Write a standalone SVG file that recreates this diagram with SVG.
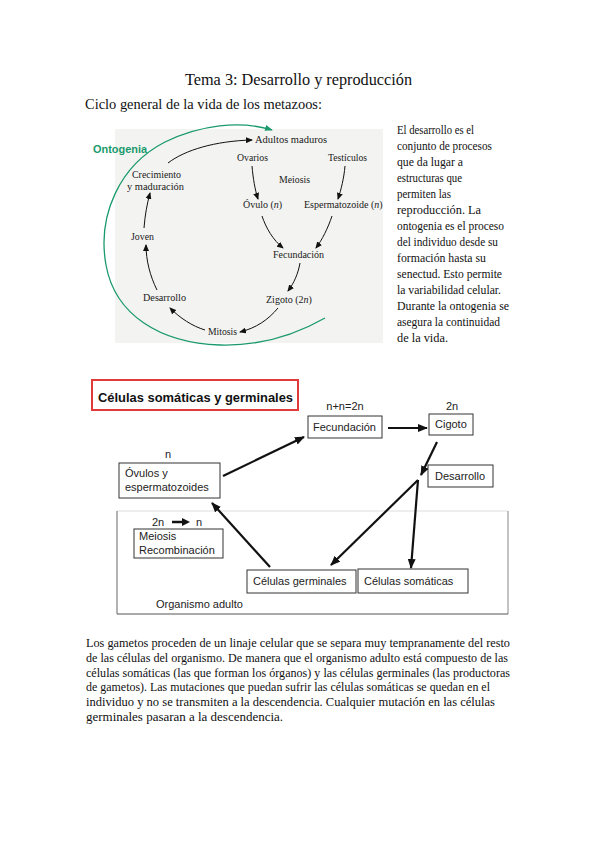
<svg xmlns="http://www.w3.org/2000/svg" width="599" height="848" viewBox="0 0 599 848">
<style>
.ser{font-family:"Liberation Serif","Times New Roman",serif;fill:#111}
.fig{font-family:"Liberation Serif","Times New Roman",serif;font-size:10px;fill:#1a1a1a}
.sans{font-family:"Liberation Sans",Arial,sans-serif;font-size:11px;fill:#222}
.box{fill:#fff;stroke:#333;stroke-width:1}
.thin{fill:none;stroke:#111;stroke-width:1}
.thick{fill:none;stroke:#111;stroke-width:2.2}
</style>
<defs>
<marker id="ah" markerUnits="userSpaceOnUse" markerWidth="7" markerHeight="6" refX="6" refY="3" orient="auto"><path d="M0,0 L7,3 L0,6 Z" fill="#111"/></marker>
<marker id="ahb" markerUnits="userSpaceOnUse" markerWidth="10" markerHeight="8" refX="9" refY="4" orient="auto"><path d="M0,0 L10,4 L0,8 Z" fill="#111"/></marker>
<marker id="ahg" markerUnits="userSpaceOnUse" markerWidth="8" markerHeight="6" refX="7" refY="3" orient="auto"><path d="M0,0 L8,3 L0,6 Z" fill="#1a9a6c"/></marker>
</defs>
<rect width="599" height="848" fill="#fff"/>

<text class="ser" x="298.5" y="85" font-size="16" text-anchor="middle" textLength="227" lengthAdjust="spacingAndGlyphs">Tema 3: Desarrollo y reproducción</text>
<text class="ser" x="85" y="109" font-size="14" textLength="237" lengthAdjust="spacingAndGlyphs">Ciclo general de la vida de los metazoos:</text>

<!-- upper figure -->
<g id="ciclo">
<rect x="115" y="129" width="268" height="214" fill="#f3f3f1"/>
<g id="ontogenia">
<path d="M325,318 C290,338 255,346 220,345 C160,343 115,315 106,265 C97,215 120,165 165,142 C200,125 240,120 272,130" fill="none" stroke="#1a9a6c" stroke-width="1.3" marker-end="url(#ahg)"/>
<text x="93" y="153" font-family="Liberation Sans,Arial,sans-serif" font-size="11.5" font-weight="bold" fill="#1a9a6c" textLength="54" lengthAdjust="spacingAndGlyphs">Ontogenia</text>
</g>
<g id="n-adultos"><text class="fig" x="255" y="143" textLength="72" lengthAdjust="spacingAndGlyphs">Adultos maduros</text></g>
<g id="n-ovarios"><text class="fig" x="237" y="161" textLength="31" lengthAdjust="spacingAndGlyphs">Ovarios</text></g>
<g id="n-testiculos"><text class="fig" x="328" y="161" textLength="39" lengthAdjust="spacingAndGlyphs">Testículos</text></g>
<g id="n-meiosis"><text class="fig" x="279" y="183" textLength="31" lengthAdjust="spacingAndGlyphs">Meiosis</text></g>
<g id="n-ovulo"><text class="fig" x="243" y="208">Óvulo (<tspan font-style="italic">n</tspan>)</text></g>
<g id="n-esperm"><text class="fig" x="304" y="208">Espermatozoide (<tspan font-style="italic">n</tspan>)</text></g>
<g id="n-fecund"><text class="fig" x="273" y="258" textLength="51" lengthAdjust="spacingAndGlyphs">Fecundación</text></g>
<g id="n-zigoto"><text class="fig" x="266" y="303">Zigoto (2<tspan font-style="italic">n</tspan>)</text></g>
<g id="n-mitosis"><text class="fig" x="208" y="335" textLength="29" lengthAdjust="spacingAndGlyphs">Mitosis</text></g>
<g id="n-desarrollo"><text class="fig" x="143" y="301" textLength="43" lengthAdjust="spacingAndGlyphs">Desarrollo</text></g>
<g id="n-joven"><text class="fig" x="131" y="240" textLength="23" lengthAdjust="spacingAndGlyphs">Joven</text></g>
<g id="n-crec"><text class="fig" x="132" y="178" textLength="49" lengthAdjust="spacingAndGlyphs">Crecimiento</text><text class="fig" x="127" y="190" textLength="57" lengthAdjust="spacingAndGlyphs">y maduración</text></g>
<g id="ciclo-conectores">
<path class="thin" d="M168,163 C185,150 215,141 252,140" marker-end="url(#ah)"/>
<path class="thin" d="M252,166 C253,178 255,190 258,199" marker-end="url(#ah)"/>
<path class="thin" d="M345,166 C344,178 341,190 338,199" marker-end="url(#ah)"/>
<path class="thin" d="M262,216 C266,228 273,240 283,248" marker-end="url(#ah)"/>
<path class="thin" d="M332,216 C328,228 322,240 316,248" marker-end="url(#ah)"/>
<path class="thin" d="M300,263 C298,274 294,283 288,291" marker-end="url(#ah)"/>
<path class="thin" d="M278,308 C268,320 256,328 240,332" marker-end="url(#ah)"/>
<path class="thin" d="M205,330 C192,326 180,318 170,308" marker-end="url(#ah)"/>
<path class="thin" d="M157,290 C150,276 146,260 146,245" marker-end="url(#ah)"/>
<path class="thin" d="M144,228 C145,215 147,204 150,193" marker-end="url(#ah)"/>
</g>
</g>

<!-- right paragraph -->
<g class="ser" font-size="11.5">
<text x="397" y="134" textLength="77" lengthAdjust="spacingAndGlyphs">El desarrollo es el</text>
<text x="397" y="150" textLength="95" lengthAdjust="spacingAndGlyphs">conjunto de procesos</text>
<text x="397" y="166" textLength="66" lengthAdjust="spacingAndGlyphs">que da lugar a</text>
<text x="397" y="182" textLength="65" lengthAdjust="spacingAndGlyphs">estructuras que</text>
<text x="397" y="198" textLength="54" lengthAdjust="spacingAndGlyphs">permiten las</text>
<text x="397" y="214" textLength="84" lengthAdjust="spacingAndGlyphs">reproducción. La</text>
<text x="397" y="230" textLength="107" lengthAdjust="spacingAndGlyphs">ontogenia es el proceso</text>
<text x="397" y="246" textLength="101" lengthAdjust="spacingAndGlyphs">del individuo desde su</text>
<text x="397" y="262" textLength="89" lengthAdjust="spacingAndGlyphs">formación hasta su</text>
<text x="397" y="278" textLength="105" lengthAdjust="spacingAndGlyphs">senectud. Esto permite</text>
<text x="397" y="294" textLength="104" lengthAdjust="spacingAndGlyphs">la variabilidad celular.</text>
<text x="397" y="310" textLength="112" lengthAdjust="spacingAndGlyphs">Durante la ontogenia se</text>
<text x="397" y="326" textLength="103" lengthAdjust="spacingAndGlyphs">asegura la continuidad</text>
<text x="397" y="342" textLength="51" lengthAdjust="spacingAndGlyphs">de la vida.</text>
</g>

<!-- lower diagram -->
<g id="titulo-celulas">
<rect x="92" y="380" width="206" height="30" fill="#fff" stroke="#e03a3a" stroke-width="2"/>
<text x="98" y="402" font-family="Liberation Sans,Arial,sans-serif" font-size="13" font-weight="bold" fill="#111" textLength="195" lengthAdjust="spacingAndGlyphs">Células somáticas y germinales</text>
</g>
<g id="organismo">
<line x1="117" y1="511" x2="508" y2="511" stroke="#ddd" stroke-width="1"/>
<line x1="508" y1="511" x2="508" y2="614" stroke="#888" stroke-width="1"/>
<line x1="117" y1="614" x2="508" y2="614" stroke="#555" stroke-width="1"/>
<line x1="117" y1="511" x2="117" y2="614" stroke="#666" stroke-width="1"/>
<text class="sans" x="156" y="608">Organismo adulto</text>
</g>
<g id="fecundacion">
<text class="sans" x="345" y="410" text-anchor="middle">n+n=2n</text>
<rect class="box" x="308" y="416" width="74" height="22"/>
<text class="sans" x="313" y="431">Fecundación</text>
</g>
<g id="cigoto">
<text class="sans" x="452" y="410" text-anchor="middle">2n</text>
<rect class="box" x="429" y="414" width="44" height="21"/>
<text class="sans" x="435" y="428">Cigoto</text>
</g>
<g id="desarrollo">
<rect class="box" x="428" y="465" width="65" height="22"/>
<text class="sans" x="435" y="480">Desarrollo</text>
</g>
<g id="gametos">
<text class="sans" x="168" y="458" text-anchor="middle">n</text>
<rect class="box" x="119" y="463" width="101" height="35"/>
<text class="sans" x="125" y="477">Óvulos y</text>
<text class="sans" x="125" y="491">espermatozoides</text>
</g>
<g id="meiosis">
<text class="sans" x="152" y="526">2n</text>
<text class="sans" x="196" y="526">n</text>
<path d="M172,522 L183,522" stroke="#111" stroke-width="2.5"/>
<path d="M182,518 L190,522 L182,526 Z" fill="#111"/>
<rect class="box" x="134" y="529" width="89" height="29"/>
<text class="sans" x="139" y="540">Meiosis</text>
<text class="sans" x="139" y="554">Recombinación</text>
</g>
<g id="germinales">
<rect class="box" x="247" y="570" width="109" height="23"/>
<text class="sans" x="253" y="585">Células germinales</text>
</g>
<g id="somaticas">
<rect class="box" x="358" y="569" width="110" height="24"/>
<text class="sans" x="364" y="585">Células somáticas</text>
</g>
<g id="conectores">
<line class="thick" x1="223" y1="476" x2="304" y2="437" marker-end="url(#ahb)"/>
<line class="thick" x1="388" y1="428" x2="427" y2="428" marker-end="url(#ahb)"/>
<line class="thick" x1="437" y1="442" x2="421" y2="475" marker-end="url(#ahb)"/>
<line class="thick" x1="418" y1="480" x2="331" y2="565" marker-end="url(#ahb)"/>
<line class="thick" x1="418" y1="480" x2="411" y2="568" marker-end="url(#ahb)"/>
<line class="thick" x1="270" y1="567" x2="212" y2="503" marker-end="url(#ahb)"/>
</g>

<!-- lower paragraph -->
<g class="ser" font-size="12">
<text x="86" y="647" textLength="424" lengthAdjust="spacingAndGlyphs">Los gametos proceden de un linaje celular que se separa muy tempranamente del resto</text>
<text x="86" y="662" textLength="422" lengthAdjust="spacingAndGlyphs">de las células del organismo. De manera que el organismo adulto está compuesto de las</text>
<text x="86" y="677" textLength="424" lengthAdjust="spacingAndGlyphs">células somáticas (las que forman los órganos) y las células germinales (las productoras</text>
<text x="86" y="691" textLength="404" lengthAdjust="spacingAndGlyphs">de gametos). Las mutaciones que puedan sufrir las células somáticas se quedan en el</text>
<text x="86" y="706" textLength="409" lengthAdjust="spacingAndGlyphs">individuo y no se transmiten a la descendencia.  Cualquier mutación en las células</text>
<text x="86" y="721" textLength="197" lengthAdjust="spacingAndGlyphs">germinales pasaran a la descendencia.</text>
</g>
</svg>
